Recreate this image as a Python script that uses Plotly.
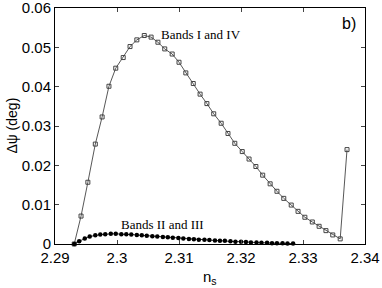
import plotly.graph_objects as go

# Bands I and IV (open squares)
x_upper = [2.2931, 2.2942, 2.2953, 2.2965, 2.2976, 2.2987, 2.2998, 2.3010, 2.3021, 2.3032,
           2.3044, 2.3055, 2.3066, 2.3077, 2.3089, 2.3100, 2.3111, 2.3123, 2.3134, 2.3145,
           2.3156, 2.3168, 2.3179, 2.3190, 2.3202, 2.3213, 2.3224, 2.3235, 2.3247, 2.3258,
           2.3269, 2.3281, 2.3292, 2.3303, 2.3315, 2.3326, 2.3337, 2.3348, 2.3360, 2.3371]
y_upper = [0.0000, 0.0071, 0.0157, 0.0254, 0.0323, 0.0401, 0.0447, 0.0474, 0.0502, 0.0519,
           0.0530, 0.0526, 0.0513, 0.0496, 0.0483, 0.0462, 0.0435, 0.0408, 0.0381, 0.0357,
           0.0331, 0.0307, 0.0281, 0.0256, 0.0235, 0.0216, 0.0197, 0.0175, 0.0153, 0.0134,
           0.0116, 0.0099, 0.0083, 0.0068, 0.0056, 0.0045, 0.0034, 0.0023, 0.0013, 0.0240]

# Bands II and III (filled dots)
x_lower = [2.2931, 2.2939, 2.2948, 2.2956, 2.2965, 2.2973, 2.2981, 2.2990, 2.2998, 2.3007,
           2.3015, 2.3023, 2.3032, 2.3040, 2.3048, 2.3057, 2.3065, 2.3074, 2.3082, 2.3090,
           2.3099, 2.3107, 2.3116, 2.3124, 2.3132, 2.3141, 2.3149, 2.3158, 2.3166, 2.3174,
           2.3183, 2.3191, 2.3200, 2.3208, 2.3216, 2.3225, 2.3233, 2.3242, 2.3250, 2.3258,
           2.3267, 2.3275, 2.3284]
y_lower = [0.0000, 0.0007, 0.0014, 0.0019, 0.0022, 0.0024, 0.0025, 0.0026, 0.0026, 0.0025,
           0.0025, 0.0024, 0.0023, 0.0022, 0.0021, 0.0020, 0.0019, 0.0018, 0.0017, 0.0016,
           0.0015, 0.0014, 0.0013, 0.0012, 0.0011, 0.0011, 0.0010, 0.0009, 0.0008, 0.0008,
           0.0007, 0.0006, 0.0006, 0.0005, 0.0004, 0.0004, 0.0003, 0.0003, 0.0002, 0.0002,
           0.0002, 0.0001, 0.0001]

x_ticks = [2.29, 2.30, 2.31, 2.32, 2.33, 2.34]
x_tick_labels = ["2.29", "2.3", "2.31", "2.32", "2.33", "2.34"]
y_ticks = [0, 0.01, 0.02, 0.03, 0.04, 0.05, 0.06]
y_tick_labels = ["0", "0.01", "0.02", "0.03", "0.04", "0.05", "0.06"]

fig = go.Figure()
fig.add_trace(go.Scatter(
    x=x_upper, y=y_upper, mode="lines+markers",
    line=dict(color="#444444", width=0.9),
    marker=dict(symbol="square-open", size=4, color="#444444", line=dict(width=1)),
    cliponaxis=False, showlegend=False, hoverinfo="skip"))
fig.add_trace(go.Scatter(
    x=x_lower, y=y_lower, mode="lines+markers",
    line=dict(color="black", width=0.8),
    marker=dict(symbol="circle", size=4.5, color="black"),
    cliponaxis=False, showlegend=False, hoverinfo="skip"))

sans = "Liberation Sans, Arial, sans-serif"
axis_font = dict(family=sans, size=15, color="black")
fig.update_xaxes(range=[2.29, 2.34], tickvals=x_ticks, ticktext=x_tick_labels,
                 ticks="inside", ticklen=4, showline=True, linecolor="black", linewidth=1,
                 mirror="ticks", showgrid=False, zeroline=False, tickfont=axis_font,
                 automargin=False, ticklabeloverflow="allow")
fig.update_yaxes(range=[0, 0.06], tickvals=y_ticks, ticktext=y_tick_labels,
                 ticks="inside", ticklen=4, showline=True, linecolor="black", linewidth=1,
                 mirror="ticks", showgrid=False, zeroline=False, tickfont=axis_font,
                 automargin=False, ticklabeloverflow="allow")

# axis titles as annotations
fig.add_annotation(xref="paper", yref="paper", x=0.5, y=-0.095, text="n<sub>s</sub>",
                   showarrow=False, font=dict(family=sans, size=15, color="black"),
                   xanchor="center", yanchor="top")
fig.add_annotation(xref="paper", yref="paper", x=-0.14, y=0.5, text="Δψ (deg)",
                   showarrow=False, textangle=-90, font=dict(family=sans, size=14, color="black"),
                   xanchor="center", yanchor="middle")

serif = dict(family="Liberation Serif, Times New Roman, serif", size=13, color="black")
fig.add_annotation(x=2.3135, y=0.0533, text="Bands I and IV", showarrow=False,
                   font=serif, xanchor="center", yanchor="middle")
fig.add_annotation(x=2.3074, y=0.0050, text="Bands II and III", showarrow=False,
                   font=serif, xanchor="center", yanchor="middle")
fig.add_annotation(xref="paper", yref="paper", x=0.947, y=0.935, text="b)", showarrow=False,
                   font=dict(family=sans, size=16, color="black"),
                   xanchor="center", yanchor="middle")

fig.update_layout(width=382, height=288, margin=dict(l=55, r=17, t=8, b=44),
                  plot_bgcolor="white", paper_bgcolor="white", hovermode=False)
fig.write_html("out.html", config={"displayModeBar": False, "staticPlot": True},
               post_script="document.body.style.margin='0px';")
